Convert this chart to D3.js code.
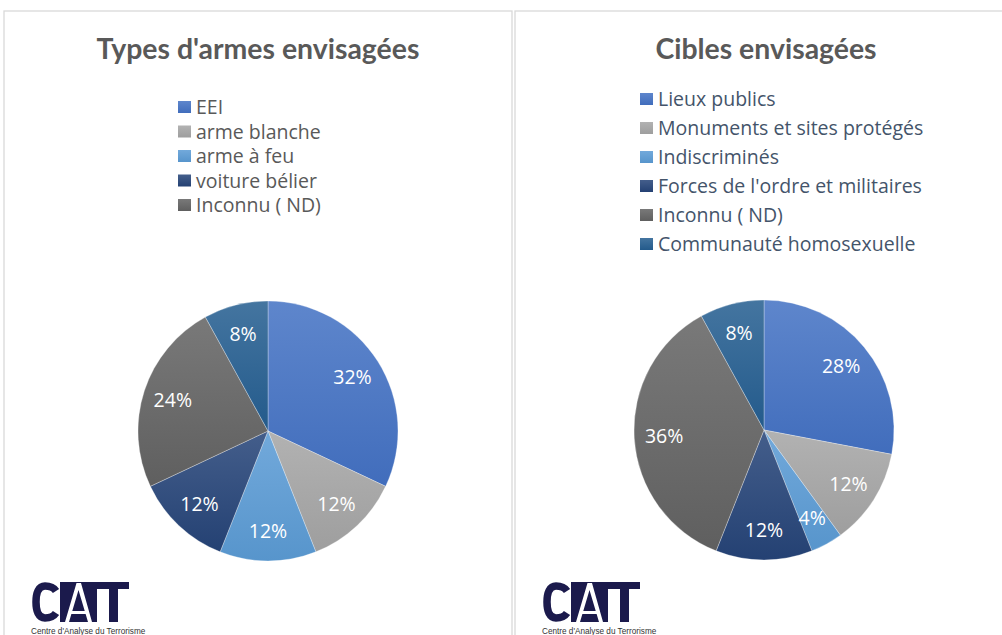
<!DOCTYPE html>
<html lang="fr">
<head>
  <meta charset="UTF-8">
  <title>Types d'armes et cibles envisagées</title>
  <script src="https://d3js.org/d3.v7.min.js"></script>
  <style>
    body { margin: 0; background: #fff; }
    svg { display: block; }
  </style>
</head>
<body>
  <div id="chart"></div>
  <script>
    // données
    const armesLabels  = ["EEI", "arme blanche", "arme à feu", "voiture bélier", "Inconnu ( ND)", "Autre"];
    const armesValues  = [32, 12, 12, 12, 24, 8];
    const armesLegend  = 5; // seules les 5 premières catégories sont en légende

    const ciblesLabels = ["Lieux publics", "Monuments et sites protégés", "Indiscriminés",
                          "Forces de l'ordre et militaires", "Inconnu ( ND)", "Communauté homosexuelle"];
    const ciblesValues = [28, 12, 4, 12, 36, 8];

    const sliceColors = ["#4472C4", "#A5A5A5", "#5B9BD5", "#264478", "#636363", "#255E91"];

    const width = 1002, height = 635;
    const svg = d3.select("#chart").append("svg")
      .attr("width", width).attr("height", height);

    const defs = svg.append("defs");
    sliceColors.forEach((c, i) => {
      const g = defs.append("linearGradient")
        .attr("id", "grad" + i)
        .attr("x1", 0).attr("y1", 0).attr("x2", 0).attr("y2", 1);
      g.append("stop").attr("offset", "0%").attr("stop-color", d3.interpolateRgb(c, "#fff")(0.14));
      g.append("stop").attr("offset", "100%").attr("stop-color", d3.color(c).darker(0.12));
    });

    const titleFont = "Lato, 'Open Sans', sans-serif";
    const font = "'Open Sans', Lato, sans-serif";
    const navy = "#1b1a4c";

    function drawPanel(opt) {
      // cadre du graphique
      svg.append("rect")
        .attr("x", opt.x0).attr("y", 11)
        .attr("width", opt.w).attr("height", 700)
        .attr("fill", "#fff").attr("stroke", "#d9d9d9").attr("stroke-width", 1.3);

      svg.append("text")
        .attr("x", opt.titleX).attr("y", 59)
        .attr("text-anchor", "middle")
        .attr("font-family", titleFont).attr("font-weight", 700)
        .attr("font-size", 28.4).attr("fill", "#595959")
        .text(opt.title);

      // légende
      const leg = svg.append("g");
      opt.labels.slice(0, opt.nLegend).forEach((lab, i) => {
        const cy = opt.legY + i * opt.legStep;
        leg.append("rect")
          .attr("x", opt.legX).attr("y", cy - 6)
          .attr("width", 13).attr("height", 12)
          .attr("fill", "url(#grad" + i + ")");
        leg.append("text")
          .attr("x", opt.legX + 18).attr("y", cy + 7)
          .attr("font-family", font).attr("font-size", 19.5)
          .attr("fill", opt.legColor)
          .text(lab);
      });

      // camembert
      const pie = d3.pie().sort(null).value(d => d);
      const arcs = pie(opt.values);
      const r = 130;
      const arc = d3.arc().innerRadius(0).outerRadius(r);
      const labelArc = d3.arc().innerRadius(r * 0.77).outerRadius(r * 0.77);

      const g = svg.append("g").attr("transform", `translate(${opt.cx},${opt.cy})`);
      g.selectAll("path.slice")
        .data(arcs)
        .join("path")
        .attr("class", "slice")
        .attr("d", arc)
        .attr("fill", (d, i) => "url(#grad" + i + ")")
        .attr("stroke", "#fff").attr("stroke-opacity", 0.5).attr("stroke-width", 0.6);

      g.selectAll("text.pct")
        .data(arcs)
        .join("text")
        .attr("class", "pct")
        .attr("transform", d => `translate(${labelArc.centroid(d)})`)
        .attr("text-anchor", "middle")
        .attr("dy", "0.36em")
        .attr("font-family", font).attr("font-size", 19.5)
        .attr("fill", "#fff")
        .text(d => d.data + "%");

      // logo CAT
      const logo = svg.append("g").attr("transform", `translate(${opt.logoX},582)`);
      logo.append("path")
        .attr("d", "M24,9 C21,4.5 17,4 13,4 C6.5,4 4,11 4,20 C4,29 6.5,36 13,36 C17,36 21,35.5 24,31")
        .attr("fill", "none").attr("stroke", navy).attr("stroke-width", 7.5);
      logo.append("rect").attr("x", 28).attr("y", 0).attr("width", 37).attr("height", 40).attr("fill", navy);
      logo.append("path")
        .attr("d", "M33,40 L44.5,1 L49,1 L60,40 L56,40 L46.5,8 L37,40 Z M40,29 L53,29 L54,32 L39,32 Z")
        .attr("fill", "#fff");
      logo.append("rect").attr("x", 65).attr("y", 0).attr("width", 32).attr("height", 7).attr("fill", navy);
      logo.append("rect").attr("x", 77).attr("y", 0).attr("width", 9).attr("height", 40).attr("fill", navy);
      logo.append("text")
        .attr("x", -1).attr("y", 51.5)
        .attr("font-family", "'Liberation Sans', Arial, sans-serif")
        .attr("font-size", 8.2).attr("fill", "#333")
        .text("Centre d'Analyse du Terrorisme");
    }

    drawPanel({
      x0: 4, w: 508, title: "Types d'armes envisagées", titleX: 258,
      labels: armesLabels, values: armesValues, nLegend: armesLegend,
      legX: 178, legY: 107, legStep: 24.5, legColor: "#595959",
      cx: 268, cy: 431, logoX: 32
    });

    drawPanel({
      x0: 515, w: 500, title: "Cibles envisagées", titleX: 766,
      labels: ciblesLabels, values: ciblesValues, nLegend: ciblesLabels.length,
      legX: 640, legY: 99, legStep: 29, legColor: "#44546A",
      cx: 764, cy: 430, logoX: 543
    });
  </script>
</body>
</html>
